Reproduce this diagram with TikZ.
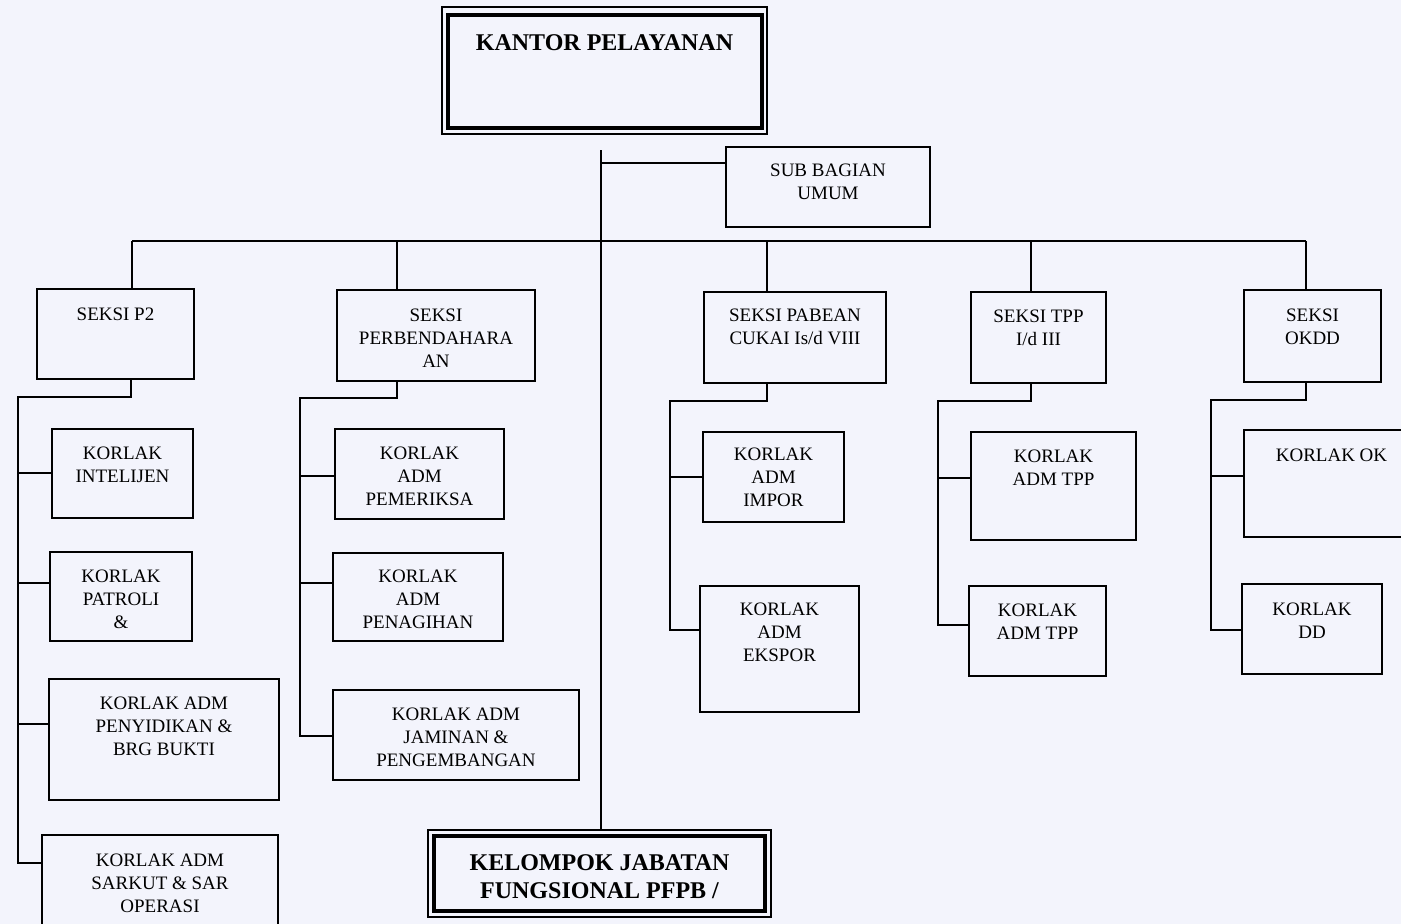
\documentclass[tikz,border=0pt]{standalone}
\usepackage{fontspec}
\setmainfont{Liberation Serif}
\definecolor{bgc}{RGB}{243,244,252}
\tikzset{
  obx/.style={draw, line width=1.3pt, anchor=north west, inner sep=0pt, outer sep=0pt, font=\fontsize{19}{23}\selectfont},
  titlebx/.style={draw, line width=1.2pt, anchor=north west, inner sep=0pt, outer sep=0pt, font=\bfseries\fontsize{24}{28}\selectfont},
  thickframe/.style={line width=4.5pt},
  conn/.style={line width=1.3pt},
}
\newcommand\obox[7]{\node[obx, minimum width=#4pt, minimum height=#5pt] (#1) at (#2,#3) {\parbox[c][#5pt][t]{#4pt}{\centering\vspace*{\dimexpr#6pt-9.8pt\relax}\strut#7}};}
\begin{document}
\begin{tikzpicture}[x=1pt,y=-1pt]
\useasboundingbox (0,0) rectangle (1401,924);
\fill[bgc] (0,0) rectangle (1401,924);
\clip (0,0) rectangle (1401,924);

% title boxes
\node[titlebx, minimum width=325pt, minimum height=127pt] (kantor) at (442,7)
  {\parbox[c][127pt][t]{325pt}{\centering\vspace*{23.5pt}\strut KANTOR PELAYANAN}};
\draw[thickframe] ([shift={(6,8)}]kantor.north west) rectangle ([shift={(-5,-6)}]kantor.south east);

\node[titlebx, minimum width=343pt, minimum height=87pt] (kelompok) at (428,830)
  {\parbox[c][87pt][t]{343pt}{\centering\vspace*{20.5pt}\strut KELOMPOK JABATAN\\FUNGSIONAL PFPB /}};
\draw[thickframe] ([shift={(6,6)}]kelompok.north west) rectangle ([shift={(-6,-6)}]kelompok.south east);

% boxes
\obox{sub}{726}{147}{204}{80}{23}{SUB BAGIAN\\UMUM}
\obox{p2}{37}{289}{157}{90}{25}{SEKSI P2}
\obox{perb}{337}{290}{198}{91}{25}{SEKSI\\PERBENDAHARA\\AN}
\obox{pabean}{704}{292}{182}{91}{23}{SEKSI PABEAN\\CUKAI Is/d VIII}
\obox{tpp}{971}{292}{135}{91}{24.5}{SEKSI TPP\\I/d III}
\obox{okdd}{1244}{290}{137}{92}{25}{SEKSI\\OKDD}

\obox{intel}{52}{429}{141}{89}{24}{KORLAK\\INTELIJEN}
\obox{patroli}{50}{552}{142}{89}{24}{KORLAK\\PATROLI\\\&}
\obox{penyid}{49}{679}{230}{121}{24}{KORLAK ADM\\PENYIDIKAN \&\\BRG BUKTI}
\obox{sarkut}{42}{835}{236}{100}{25}{KORLAK ADM\\SARKUT \& SAR\\OPERASI}

\obox{pemer}{335}{429}{169}{90}{24}{KORLAK\\ADM\\PEMERIKSA}
\obox{penag}{333}{553}{170}{88}{23}{KORLAK\\ADM\\PENAGIHAN}
\obox{jamin}{333}{690}{246}{90}{24}{KORLAK ADM\\JAMINAN \&\\PENGEMBANGAN}

\obox{impor}{703}{432}{141}{90}{22}{KORLAK\\ADM\\IMPOR}
\obox{ekspor}{700}{586}{159}{126}{23}{KORLAK\\ADM\\EKSPOR}

\obox{admtppa}{971}{432}{165}{108}{24}{KORLAK\\ADM TPP}
\obox{admtppb}{969}{586}{137}{90}{24}{KORLAK\\ADM TPP}

\obox{ok}{1244}{430}{175}{107}{25}{KORLAK OK}
\obox{dd}{1242}{584}{140}{90}{25}{KORLAK\\DD}

% main spine
\coordinate (ctop) at (601,150);
\draw[conn] (ctop) -- (ctop |- kelompok.north);
\coordinate (csub) at (601,163);
\draw[conn] (csub) -- (csub -| sub.west);

% bus
\coordinate (busL) at (132,241);
\coordinate (busR) at (1306,241);
\coordinate (bperb) at (397,241);
\coordinate (bpab) at (767,241);
\coordinate (btpp) at (1031,241);
\draw[conn] (busL) -- (busR);
\draw[conn] (busL) -- (busL |- p2.north);
\draw[conn] (bperb) -- (bperb |- perb.north);
\draw[conn] (bpab) -- (bpab |- pabean.north);
\draw[conn] (btpp) -- (btpp |- tpp.north);
\draw[conn] (busR) -- (busR |- okdd.north);

% P2 subtree
\coordinate (p2j) at (131,397);
\coordinate (p2k) at (18,397);
\coordinate (p2e) at (18,863);
\draw[conn] (p2j |- p2.south) -- (p2j) -- (p2k) -- (p2e) -- (p2e -| sarkut.west);
\coordinate (p2a) at (18,473);
\coordinate (p2b) at (18,583);
\coordinate (p2c) at (18,724);
\draw[conn] (p2a) -- (p2a -| intel.west);
\draw[conn] (p2b) -- (p2b -| patroli.west);
\draw[conn] (p2c) -- (p2c -| penyid.west);

% Perbendaharaan subtree
\coordinate (pbj) at (397,398);
\coordinate (pbk) at (300,398);
\coordinate (pbe) at (300,736);
\draw[conn] (pbj |- perb.south) -- (pbj) -- (pbk) -- (pbe) -- (pbe -| jamin.west);
\coordinate (pba) at (300,476);
\coordinate (pbb) at (300,583);
\draw[conn] (pba) -- (pba -| pemer.west);
\draw[conn] (pbb) -- (pbb -| penag.west);

% Pabean subtree
\coordinate (paj) at (767,401);
\coordinate (pak) at (670,401);
\coordinate (pae) at (670,630);
\draw[conn] (paj |- pabean.south) -- (paj) -- (pak) -- (pae) -- (pae -| ekspor.west);
\coordinate (paa) at (670,477);
\draw[conn] (paa) -- (paa -| impor.west);

% TPP subtree
\coordinate (tpj) at (1031,401);
\coordinate (tpk) at (938,401);
\coordinate (tpe) at (938,625);
\draw[conn] (tpj |- tpp.south) -- (tpj) -- (tpk) -- (tpe) -- (tpe -| admtppb.west);
\coordinate (tpa) at (938,478);
\draw[conn] (tpa) -- (tpa -| admtppa.west);

% OKDD subtree
\coordinate (okj) at (1306,400);
\coordinate (okk) at (1211,400);
\coordinate (oke) at (1211,630);
\draw[conn] (okj |- okdd.south) -- (okj) -- (okk) -- (oke) -- (oke -| dd.west);
\coordinate (oka) at (1211,476);
\draw[conn] (oka) -- (oka -| ok.west);
\end{tikzpicture}
\end{document}
